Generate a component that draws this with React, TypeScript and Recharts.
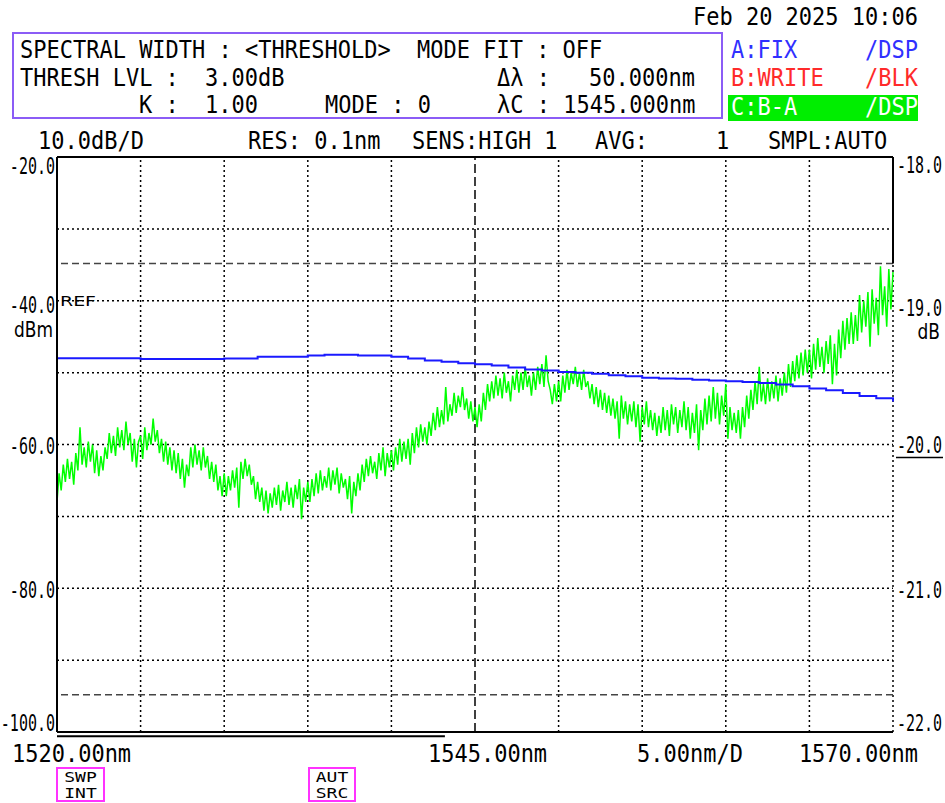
import React from 'react';
import {ComposedChart, Line, XAxis, YAxis, ReferenceLine} from 'recharts';

const MONO = '"DejaVu Sans Mono", "Liberation Mono", monospace';
const SANS = '"DejaVu Sans", sans-serif';

// sampling grid of the C trace
const startNm = 1520;
const stepNm = 0.125;

// C: B-A trace, dB (right axis), read every 0.125 nm
const traceC = [
    // 1520 - 1525
    -20.40, -20.20, -20.32, -20.14, -20.26, -20.10, -20.24, -20.12, -20.28, -20.06,
    -20.18, -19.88, -20.14, -20.02, -20.16, -19.98, -20.12, -20.00, -20.20, -20.04,
    -20.22, -20.08, -20.18, -20.02, -20.10, -19.92, -20.06, -19.94, -20.08, -19.88,
    -20.02, -19.90, -20.04, -19.84, -20.00, -19.92, -20.12, -19.96, -20.16, -19.98,
    // 1525 - 1530
    -19.94, -20.10, -19.88, -20.04, -19.92, -20.00, -19.82, -19.98, -19.90, -20.06,
    -19.96, -20.12, -19.98, -20.14, -20.02, -20.18, -20.04, -20.20, -20.06, -20.24,
    -20.10, -20.30, -20.14, -20.22, -20.02, -20.16, -20.00, -20.14, -20.04, -20.18,
    -20.02, -20.16, -20.08, -20.24, -20.12, -20.26, -20.14, -20.32, -20.22, -20.36,
    // 1530 - 1535
    -20.20, -20.36, -20.22, -20.32, -20.18, -20.30, -20.16, -20.44, -20.12, -20.24,
    -20.10, -20.22, -20.14, -20.28, -20.22, -20.38, -20.26, -20.40, -20.30, -20.46,
    -20.32, -20.48, -20.34, -20.44, -20.30, -20.42, -20.28, -20.46, -20.32, -20.40,
    -20.26, -20.42, -20.30, -20.44, -20.28, -20.38, -20.24, -20.52, -20.30, -20.40,
    // 1535 - 1540
    -20.26, -20.40, -20.24, -20.36, -20.20, -20.34, -20.18, -20.32, -20.22, -20.30,
    -20.16, -20.32, -20.18, -20.28, -20.16, -20.34, -20.20, -20.30, -20.24, -20.38,
    -20.22, -20.48, -20.26, -20.36, -20.20, -20.32, -20.14, -20.26, -20.10, -20.22,
    -20.08, -20.20, -20.12, -20.24, -20.06, -20.18, -20.02, -20.22, -20.06, -20.16,
    // 1540 - 1545
    -20.04, -20.18, -20.02, -20.14, -19.96, -20.12, -19.98, -20.10, -19.96, -20.14,
    -19.92, -20.06, -19.88, -20.02, -19.86, -19.98, -19.88, -20.00, -19.84, -19.94,
    -19.78, -19.90, -19.74, -19.88, -19.76, -19.86, -19.60, -19.84, -19.72, -19.80,
    -19.64, -19.78, -19.66, -19.74, -19.60, -19.76, -19.68, -19.82, -19.70, -19.84,
    // 1545 - 1550
    -19.74, -19.88, -19.72, -19.84, -19.64, -19.76, -19.58, -19.70, -19.56, -19.68,
    -19.52, -19.66, -19.54, -19.68, -19.50, -19.64, -19.56, -19.70, -19.52, -19.62,
    -19.48, -19.64, -19.50, -19.62, -19.46, -19.60, -19.52, -19.66, -19.50, -19.62,
    -19.46, -19.58, -19.44, -19.60, -19.38, -19.56, -19.62, -19.72, -19.58, -19.70,
    // 1550 - 1555
    -19.56, -19.70, -19.52, -19.64, -19.48, -19.62, -19.50, -19.58, -19.46, -19.60,
    -19.50, -19.62, -19.48, -19.60, -19.56, -19.68, -19.58, -19.72, -19.60, -19.74,
    -19.62, -19.76, -19.64, -19.78, -19.66, -19.80, -19.68, -19.82, -19.70, -19.96,
    -19.66, -19.82, -19.70, -19.86, -19.72, -19.84, -19.70, -19.88, -19.72, -19.98,
    // 1555 - 1560
    -19.74, -19.86, -19.70, -19.88, -19.76, -19.90, -19.78, -19.94, -19.80, -19.92,
    -19.74, -19.90, -19.76, -19.94, -19.72, -19.86, -19.74, -19.92, -19.76, -19.88,
    -19.70, -19.90, -19.74, -19.96, -19.78, -19.92, -19.72, -20.04, -19.76, -19.90,
    -19.68, -19.86, -19.66, -19.84, -19.60, -19.82, -19.64, -19.86, -19.66, -19.80,
    // 1560 - 1565
    -19.58, -19.96, -19.74, -19.90, -19.78, -19.92, -19.76, -19.96, -19.74, -19.88,
    -19.66, -19.82, -19.62, -19.76, -19.56, -19.72, -19.46, -19.70, -19.58, -19.72,
    -19.54, -19.70, -19.56, -19.68, -19.52, -19.70, -19.54, -19.66, -19.50, -19.64,
    -19.44, -19.60, -19.42, -19.56, -19.38, -19.54, -19.36, -19.52, -19.34, -19.50,
    // 1565 - 1570
    -19.34, -19.54, -19.30, -19.48, -19.26, -19.46, -19.32, -19.50, -19.28, -19.44,
    -19.24, -19.58, -19.30, -19.52, -19.20, -19.40, -19.14, -19.34, -19.12, -19.30,
    -19.08, -19.30, -19.10, -19.28, -18.96, -19.22, -19.00, -19.18, -18.94, -19.32,
    -18.92, -19.16, -18.98, -19.24, -18.76, -19.10, -18.90, -19.18, -18.78, -19.06,
    -18.80,
];

// A: FIX trace, dBm (left axis), one value per nm
const traceA = [
    -48.0, -48.0, -48.0, -48.0, -48.0, -48.1, -48.1, -48.1, -48.1, -48.1,
    -48.05, -48.05, -47.8, -47.8, -47.8, -47.6, -47.5, -47.5, -47.6, -47.6,
    -47.8, -48.05, -48.3, -48.5, -48.7, -48.85, -49.0, -49.3, -49.55, -49.7,
    -49.9, -50.0, -50.15, -50.35, -50.5, -50.7, -50.8, -50.85, -51.0, -51.1,
    -51.2, -51.3, -51.45, -51.65, -51.9, -52.2, -52.45, -52.85, -53.25, -53.55,
    -54.0,
];

const xGrid = [1525, 1530, 1535, 1540, 1550, 1555, 1560, 1565, 1570];
const xCenter = 1545;
const yGrid = [-30, -40, -50, -60, -70, -80, -90];
const thresholds = [-18.74, -21.74];
const leftTicks = [-100, -80, -60, -40, -20];
const rightTicks = [-22, -21, -20, -19, -18];
const xTicks = [1520, 1545, 1570];

const data = traceC.map((c, i) => ({
    wl: startNm + i * stepNm,
    c,
    a: i % 8 === 0 ? traceA[i / 8] : null,
}));

const T = ({x, y, children, fill = '#000', anchor = 'start', size = 22, sx = 1, sy = 1.12, family = MONO}: any) => (
    <g transform={`translate(${x},${y}) scale(${sx},${sy})`}>
        <text x={0} y={0} fill={fill} textAnchor={anchor} fontSize={size} fontFamily={family}>{children}</text>
    </g>
);

// label offsets below/over each gridline, as the instrument draws them
const leftDy = [-1, 10, 9, 12, 17];
const rightDy = [-1, 10, 8, 15, 16];

const LeftTick = (props: any) => {
    const {x, y, payload, index} = props;
    return <T x={x} y={y + leftDy[index]} anchor="end" size={15} sy={1.5}>{payload.value.toFixed(1)}</T>;
};

const RightTick = (props: any) => {
    const {x, y, payload, index} = props;
    return (
        <g>
            <T x={x} y={y + rightDy[index]} size={15} sy={1.5}>{payload.value.toFixed(1)}</T>
            {payload.value === -20 && <line x1={x - 1} x2={x + 46} y1={y + 13} y2={y + 13} stroke="#000" strokeWidth={1.5}/>}
        </g>
    );
};

const BottomTick = (props: any) => {
    const {x, y, payload} = props;
    const v = payload.value;
    const dx = v === 1520 ? -45 : v === 1545 ? -47 : 25;
    return <T x={x + dx} y={y + 30} anchor={v === 1570 ? 'end' : 'start'} size={22} sy={1.15}>{v.toFixed(2) + 'nm'}</T>;
};

const Overlay = () => (
    <svg width={945} height={803} style={{position: 'absolute', left: 0, top: 0, pointerEvents: 'none'}}>
        <T x={918} y={25} anchor="end">Feb 20 2025 10:06</T>
        <rect x={13} y={33} width={709} height={85} fill="none" stroke="#8b5cf6" strokeWidth={2}/>
        <T x={20} y={58}>SPECTRAL WIDTH : &lt;THRESHOLD&gt;</T>
        <T x={417} y={58}>MODE FIT : OFF</T>
        <T x={20} y={86}>THRESH LVL :</T>
        <T x={205} y={86}>3.00dB</T>
        <T x={497} y={86}>Δλ :</T>
        <T x={589} y={86}>50.000nm</T>
        <T x={139} y={113}>K :</T>
        <T x={205} y={113}>1.00</T>
        <T x={325} y={113}>MODE : 0</T>
        <T x={497} y={113}>λC : 1545.000nm</T>

        <T x={731} y={58} fill="#3030ff">A:FIX</T>
        <T x={918} y={58} fill="#3030ff" anchor="end">/DSP</T>
        <T x={731} y={86} fill="#ff2a2a">B:WRITE</T>
        <T x={918} y={86} fill="#ff2a2a" anchor="end">/BLK</T>
        <rect x={728} y={95} width={190} height={26} fill="#00ee00"/>
        <T x={731} y={115} fill="#fff">C:B-A</T>
        <T x={918} y={115} fill="#fff" anchor="end">/DSP</T>

        <T x={38} y={149}>10.0dB/D</T>
        <T x={248} y={149}>RES: 0.1nm</T>
        <T x={412} y={149}>SENS:HIGH 1</T>
        <T x={595} y={149}>AVG:</T>
        <T x={716} y={149}>1</T>
        <T x={768} y={149}>SMPL:AUTO</T>

        <T x={60} y={306} size={14} sx={1.35} sy={1} family={SANS}>REF</T>
        <T x={53} y={337} anchor="end" size={17} sy={1.25} family={SANS}>dBm</T>
        <T x={940} y={339} anchor="end" size={17} sy={1.2} family={SANS}>dB</T>

        <T x={637} y={762} sy={1.15}>5.00nm/D</T>

        <rect x={57} y={768} width={47} height={33} fill="none" stroke="#ff33ff" strokeWidth={2}/>
        <T x={80.5} y={782} anchor="middle" size={12} sx={1.5} sy={1.1}>SWP</T>
        <T x={80.5} y={798} anchor="middle" size={12} sx={1.5} sy={1.1}>INT</T>
        <rect x={309} y={768} width={46} height={33} fill="none" stroke="#ff33ff" strokeWidth={2}/>
        <T x={332} y={782} anchor="middle" size={12} sx={1.5} sy={1.1}>AUT</T>
        <T x={332} y={798} anchor="middle" size={12} sx={1.5} sy={1.1}>SRC</T>
    </svg>
);

export default function App() {
    return (
        <div style={{position: 'absolute', left: 0, top: 0, width: 945, height: 803, background: '#fff'}}>
            <ComposedChart
                width={945}
                height={803}
                data={data}
                margin={{top: 157, right: 2, bottom: 41, left: 7}}
            >
                <XAxis
                    dataKey="wl"
                    type="number"
                    domain={[1520, 1570]}
                    ticks={xTicks}
                    interval={0}
                    tickLine={false}
                    tickSize={0}
                    tickMargin={0}
                    height={30}
                    axisLine={{stroke: '#000', strokeWidth: 2}}
                    tick={<BottomTick/>}
                />
                <YAxis
                    yAxisId="dbm"
                    domain={[-100, -20]}
                    ticks={leftTicks}
                    interval={0}
                    width={50}
                    tickLine={false}
                    tickSize={0}
                    tickMargin={2}
                    axisLine={{stroke: '#000', strokeWidth: 2}}
                    tick={<LeftTick/>}
                />
                <YAxis
                    yAxisId="db"
                    orientation="right"
                    domain={[-22, -18]}
                    ticks={rightTicks}
                    interval={0}
                    width={50}
                    tickLine={false}
                    tickSize={0}
                    tickMargin={4}
                    axisLine={false}
                    tick={<RightTick/>}
                />

                {xGrid.map((v) => (
                    <ReferenceLine key={'x' + v} x={v} yAxisId="dbm" stroke="#000" strokeWidth={1.5} strokeDasharray="2 3"/>
                ))}
                <ReferenceLine x={xCenter} yAxisId="dbm" stroke="#000" strokeWidth={1.5} strokeDasharray="9 4"/>
                {yGrid.map((v) => (
                    <ReferenceLine key={'y' + v} y={v} yAxisId="dbm" stroke="#000" strokeWidth={1.5} strokeDasharray="2 3"/>
                ))}
                {thresholds.map((v) => (
                    <ReferenceLine key={'t' + v} y={v} yAxisId="db" stroke="#444" strokeWidth={1.5} strokeDasharray="7 4"/>
                ))}
                <ReferenceLine y={-20} yAxisId="dbm" stroke="#000" strokeWidth={2}/>
                <ReferenceLine
                    yAxisId="db"
                    segment={[{x: 1570, y: -18}, {x: 1570, y: thresholds[0]}]}
                    stroke="#000"
                    strokeWidth={2}
                />
                <ReferenceLine
                    yAxisId="dbm"
                    ifOverflow="visible"
                    segment={[{x: 1520, y: -100.6}, {x: 1543.2, y: -100.6}]}
                    stroke="#000"
                    strokeWidth={2}
                />

                <Line
                    yAxisId="db"
                    dataKey="c"
                    type="linear"
                    stroke="#00ff00"
                    strokeWidth={1.5}
                    dot={false}
                    isAnimationActive={false}
                />
                <Line
                    yAxisId="dbm"
                    dataKey="a"
                    type="stepAfter"
                    connectNulls
                    stroke="#1a1aff"
                    strokeWidth={2}
                    dot={false}
                    isAnimationActive={false}
                />
            </ComposedChart>
            <Overlay/>
        </div>
    );
}
